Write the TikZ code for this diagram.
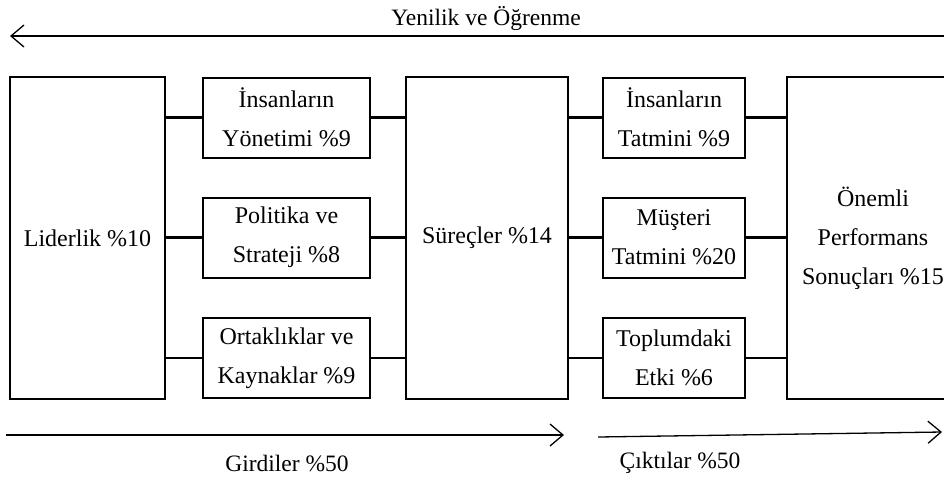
\documentclass[tikz,border=0pt]{standalone}
\usepackage{fontspec}
\setmainfont{Liberation Serif}
\usetikzlibrary{arrows.meta, positioning, calc}
\tikzset{
    base/.style = {
        draw=black, line width=2pt, text centered, align=center,
        inner sep=0pt, font=\fontsize{24}{39}\selectfont
    },
    % Boxes
    tallbox/.style  = {base, rectangle, minimum height=322pt},
    smallbox/.style = {base, rectangle, minimum height=80pt},
    % Edges and labels
    link/.style  = {line width=2.2pt},
    flow/.style  = {line width=1.3pt, -{Straight Barb[length=13pt, width=22pt, line width=1.3pt]}},
    caption/.style = {font=\fontsize{23.5}{28}\selectfont, inner sep=0pt}
}
\begin{document}
\begin{tikzpicture}[x=1pt, y=-1pt]
    \useasboundingbox (0,0) rectangle (944,477);

    % Girdiler
    \node (lider) [tallbox, minimum width=155pt] at (87.5,238) {Liderlik \%10};
    \node (insyon) [smallbox, minimum width=167pt] at (286.5,117.5) {İnsanların\\Yönetimi \%9};
    \node (polstr) [smallbox, minimum width=167pt] at (286.5,237.5) {Politika ve\\Strateji \%8};
    \node (ortkay) [smallbox, minimum width=167pt] at (286.5,358) {Ortaklıklar ve\\Kaynaklar \%9};
    \node (surec) [tallbox, minimum width=162pt] at (487,238) {Süreçler \%14};

    % Çıktılar
    \node (instat) [smallbox, minimum width=142pt] at (674,117.5) {İnsanların\\Tatmini \%9};
    \node (mustat) [smallbox, minimum width=142pt] at (674,237.5) {Müşteri\\Tatmini \%20};
    \node (toplum) [smallbox, minimum width=142pt] at (674,358) {Toplumdaki\\Etki \%6};
    \node (onemli) [tallbox, minimum width=172pt] at (873,238) {Önemli\\Performans\\Sonuçları \%15};

    \draw [link] (lider.east |- insyon.west) -- (insyon.west);
    \draw [link] (lider.east |- polstr.west) -- (polstr.west);
    \draw [link] (lider.east |- ortkay.west) -- (ortkay.west);
    \draw [link] (insyon.east) -- (surec.west |- insyon.east);
    \draw [link] (polstr.east) -- (surec.west |- polstr.east);
    \draw [link] (ortkay.east) -- (surec.west |- ortkay.east);
    \draw [link] (surec.east |- instat.west) -- (instat.west);
    \draw [link] (surec.east |- mustat.west) -- (mustat.west);
    \draw [link] (surec.east |- toplum.west) -- (toplum.west);
    \draw [link] (instat.east) -- (onemli.west |- instat.east);
    \draw [link] (mustat.east) -- (onemli.west |- mustat.east);
    \draw [link] (toplum.east) -- (onemli.west |- toplum.east);

    % Akış okları
    \coordinate (yenR) at (946,36);
    \coordinate (yenL) at (10,36);
    \draw [flow] (yenR) -- (yenL);
    \node (yenilik) [caption] at (486,19) {Yenilik ve Öğrenme};

    \coordinate (girL) at (6,435);
    \coordinate (girR) at (564,435);
    \draw [flow] (girL) -- (girR);
    \node (girdi) [caption] at (287,463) {Girdiler \%50};

    \coordinate (cikL) at (598,437);
    \coordinate (cikR) at (942,432);
    \draw [flow] (cikL) -- (cikR);
    \node (cikti) [caption] at (680,463) {Çıktılar \%50};
\end{tikzpicture}
\end{document}
